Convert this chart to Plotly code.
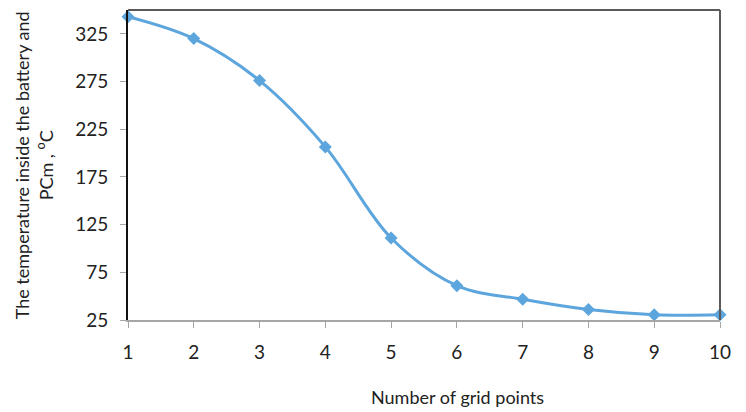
import plotly.graph_objects as go

grid_points = [1, 2, 3, 4, 5, 6, 7, 8, 9, 10]
temperature = [343, 320, 276, 206.5, 111, 61, 46.7, 36, 30.5, 30.5]
y_ticks = [25, 75, 125, 175, 225, 275, 325]
x_ticks = [1, 2, 3, 4, 5, 6, 7, 8, 9, 10]

FONT = "Lato"
fig = go.Figure()
fig.add_trace(go.Scatter(
    x=grid_points, y=temperature, mode="lines+markers",
    line=dict(color="#5DA5DD", width=3, shape="spline", smoothing=1.0),
    marker=dict(symbol="diamond", size=10, color="#5DA5DD"),
    cliponaxis=False, showlegend=False,
))

fig.update_layout(
    width=738, height=404,
    margin=dict(l=120, r=26, t=2, b=92),
    paper_bgcolor="white", plot_bgcolor="white",
    font=dict(family=FONT, size=19, color="#222222"),
    xaxis=dict(range=[1, 10], tickvals=x_ticks, showgrid=False, zeroline=False,
               showline=True, linecolor="#A6A6A6", linewidth=2,
               ticks="outside", ticklen=6, tickcolor="#A6A6A6", tickwidth=1,
               ticklabelstandoff=8, tickfont=dict(size=19)),
    yaxis=dict(range=[25, 350], tickvals=y_ticks, showgrid=False, zeroline=False,
               showline=True, linecolor="#111111", linewidth=2,
               ticks="outside", ticklen=6, tickcolor="#A6A6A6", tickwidth=1,
               ticklabelstandoff=8, tickfont=dict(size=19)),
    shapes=[
        dict(type="line", xref="paper", yref="paper", x0=0, x1=1, y0=1, y1=1,
             line=dict(color="#5A5A5A", width=2)),
        dict(type="line", xref="paper", yref="paper", x0=1, x1=1, y0=0, y1=1,
             line=dict(color="#5A5A5A", width=2)),
    ],
    annotations=[
        dict(text="Number of grid points", xref="paper", yref="paper",
             x=0.556, y=-0.248, xanchor="center", yanchor="middle",
             showarrow=False, font=dict(size=18)),
        dict(text="The temperature inside the battery and<br>PCm , <sup>o</sup>C",
             xref="paper", yref="paper", x=-0.16, y=0.5, textangle=-90,
             xanchor="center", yanchor="middle", showarrow=False,
             font=dict(size=18)),
    ],
)

fig.write_html("out.html")
